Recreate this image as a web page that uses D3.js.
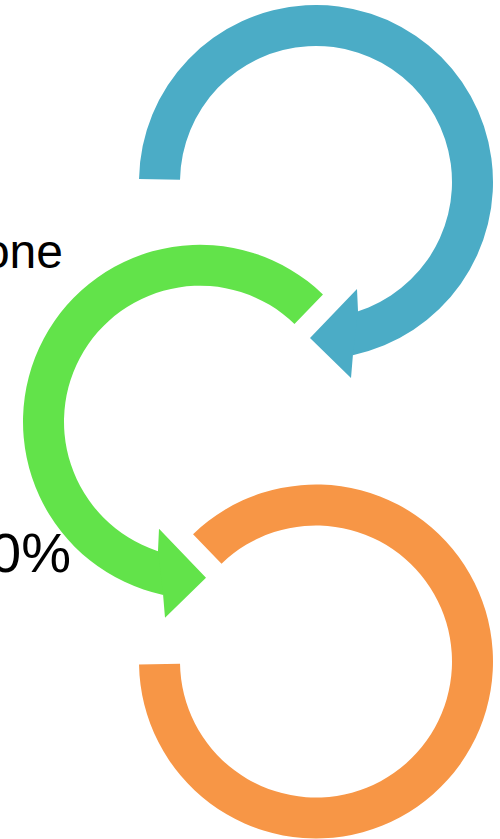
<!DOCTYPE html>
<html>
<head>
<meta charset="utf-8">
<script src="https://cdn.jsdelivr.net/npm/d3@7"></script>
<style>
  html, body { margin: 0; padding: 0; background: #fff; }
  svg { display: block; }
</style>
</head>
<body>
<svg id="chart" width="500" height="839"></svg>
<script>
// ---- data ----
const steps       = ["step1", "step2", "step3"];
const stepColors  = ["#4BACC6", "#62E34A", "#F79646"];
const stepSide    = ["right", "left", "right"];
const startAngles = [-89, -168, -44];   // degrees, clockwise from 12 o'clock
const endAngles   = [168, 44, 269];
const arrowAt     = ["end", "start", "none"];
const labels      = ["one", "0%"];
const labelSizes  = [48, 56];

// ---- layout ----
const svg = d3.select("#chart");
const rad = Math.PI / 180;
const y = d3.scalePoint().domain(steps).range([182, 661.5]);
const x = d3.scaleOrdinal().domain(["left", "right"]).range([200, 316]);
const innerR = 136, outerR = 177;

const arc = d3.arc().innerRadius(innerR).outerRadius(outerR);

// arrow head, relative to circle centre, for a clockwise arc ending near the bottom
const head = [[42, 129], [41, 107], [-6, 156], [35, 196], [37, 172]];

steps.forEach((s, i) => {
  const g = svg.append("g")
    .attr("transform", `translate(${x(stepSide[i])},${y(s)})`);
  g.append("path")
    .attr("d", arc({ startAngle: startAngles[i] * rad, endAngle: endAngles[i] * rad }))
    .attr("fill", stepColors[i]);
  if (arrowAt[i] !== "none") {
    const flip = arrowAt[i] === "end" ? 1 : -1;
    g.append("path")
      .attr("d", d3.line()(head.map(p => [p[0] * flip, p[1]])) + "Z")
      .attr("fill", stepColors[i]);
  }
});

// labels (partly outside the left edge, as in the reference)
const labelY = d3.scalePoint().domain(labels).range([267.5, 572]);
const labelX = d3.scaleOrdinal().domain(labels).range([63, 71]);
svg.selectAll("text.lbl").data(labels).join("text")
  .attr("class", "lbl")
  .attr("x", d => labelX(d))
  .attr("y", d => labelY(d))
  .attr("text-anchor", "end")
  .attr("font-family", "'Liberation Sans', Arial, Helvetica, sans-serif")
  .attr("font-size", (d, i) => labelSizes[i])
  .attr("fill", "#000")
  .text(d => d);
</script>
</body>
</html>
